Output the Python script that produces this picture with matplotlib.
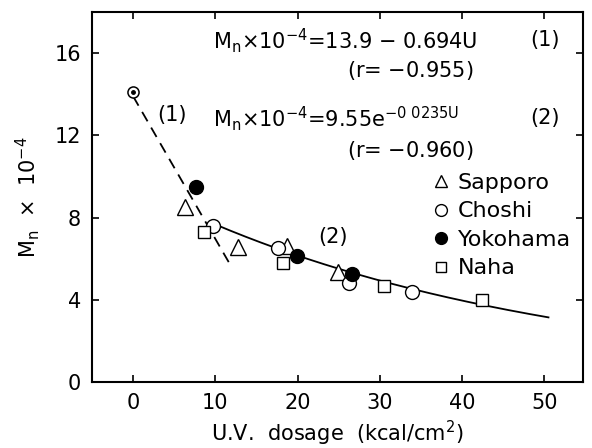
import numpy as np
import matplotlib
matplotlib.use("Agg")
import matplotlib.pyplot as plt

plt.rcParams['font.family'] = ['DejaVu Sans']
plt.rcParams['mathtext.fontset'] = 'dejavusans'

# start point (unexposed)
x0 = [0.0]
y0 = [14.1]

# stations
sapporo_x = [6.3, 12.8, 18.7, 24.9]
sapporo_y = [8.5, 6.55, 6.6, 5.35]
choshi_x = [9.7, 17.6, 26.2, 33.9]
choshi_y = [7.6, 6.5, 4.8, 4.37]
yokohama_x = [7.65, 19.9, 26.6]
yokohama_y = [9.5, 6.15, 5.25]
naha_x = [8.6, 18.2, 30.5, 42.4]
naha_y = [7.3, 5.8, 4.66, 4.0]

# fitted lines
lin_a, lin_b = 13.9, -0.694
lin_range = [0, 12]
exp_a, exp_b = 9.55, -0.022
exp_range = [10, 50.5]

fig = plt.figure(figsize=(5.92, 4.48), dpi=100)
ax = fig.add_axes([0.1554, 0.1473, 0.8294, 0.8259])

u1 = np.linspace(lin_range[0], lin_range[1], 50)
ax.plot(u1, lin_a + lin_b * u1, color="black", lw=1.3, ls=(0, (6, 4)), zorder=1)
u2 = np.linspace(exp_range[0], exp_range[1], 200)
ax.plot(u2, exp_a * np.exp(exp_b * u2), color="black", lw=1.3, zorder=1)

ms = 10
ax.plot(x0, y0, 'o', ms=8, mfc='white', mec='black', mew=1.1, zorder=3)
ax.plot(x0, y0, 'o', ms=2.5, color='black', zorder=4)
ax.plot(sapporo_x, sapporo_y, '^', ms=ms + 1, mfc='white', mec='black', mew=1.0,
        ls='none', label='Sapporo', zorder=3)
ax.plot(choshi_x, choshi_y, 'o', ms=ms, mfc='white', mec='black', mew=1.0,
        ls='none', label='Choshi', zorder=3)
ax.plot(yokohama_x, yokohama_y, 'o', ms=ms, color='black',
        ls='none', label='Yokohama', zorder=3)
ax.plot(naha_x, naha_y, 's', ms=ms - 1, mfc='white', mec='black', mew=1.0,
        ls='none', label='Naha', zorder=3)

ax.set_xlim(-5, 54.7)
ax.set_ylim(0, 18)
ax.set_xticks([0, 10, 20, 30, 40, 50])
ax.set_yticks([0, 4, 8, 12, 16])
ax.tick_params(direction='in', length=5, width=1.2, top=True, right=True,
               labelsize=15, pad=8)
for s in ax.spines.values():
    s.set_linewidth(1.5)

ax.set_xlabel('U.V.  dosage  (kcal/cm$^2$)', fontsize=15, labelpad=4)
ax.set_ylabel(r'M$_{\mathrm{n}}$  $\times$  10$^{-4}$', fontsize=15, labelpad=9)

fs = 15
ax.text(0.246, 0.924, r'M$_{\mathrm{n}}$$\times$10$^{-4}$=13.9 $-$ 0.694U', transform=ax.transAxes,
        fontsize=fs, va='center')
ax.text(0.892, 0.924, '(1)', transform=ax.transAxes, fontsize=fs, va='center')
ax.text(0.519, 0.843, '(r= $-$0.955)', transform=ax.transAxes, fontsize=fs, va='center')
ax.text(0.246, 0.713, r'M$_{\mathrm{n}}$$\times$10$^{-4}$=9.55e$^{\mathrm{-0\ 0235U}}$',
        transform=ax.transAxes, fontsize=fs, va='center')
ax.text(0.893, 0.713, '(2)', transform=ax.transAxes, fontsize=fs, va='center')
ax.text(0.519, 0.627, '(r= $-$0.960)', transform=ax.transAxes, fontsize=fs, va='center')
ax.text(0.132, 0.722, '(1)', transform=ax.transAxes, fontsize=fs, va='center')
ax.text(0.46, 0.392, '(2)', transform=ax.transAxes, fontsize=fs, va='center')

leg = ax.legend(loc='upper left', bbox_to_anchor=(0.697, 0.565), frameon=False,
                fontsize=16, handlelength=0.6, handletextpad=0.45, labelspacing=0.38,
                borderaxespad=0, borderpad=0, markerscale=0.85)

fig.savefig("out.png", dpi=100)
